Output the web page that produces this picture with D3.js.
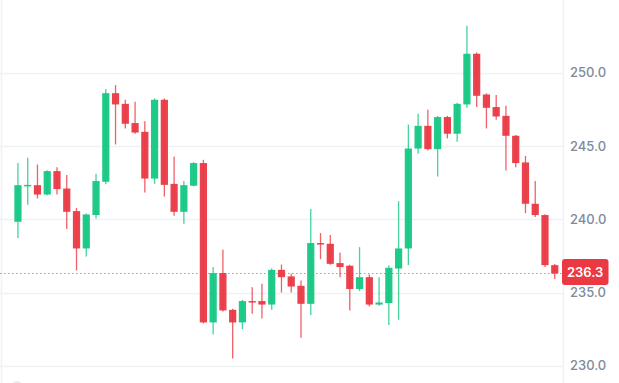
<!DOCTYPE html>
<html>
<head>
<meta charset="utf-8">
<script src="https://cdn.jsdelivr.net/npm/d3@7"></script>
<style>
  html, body { margin: 0; padding: 0; background: #fff; }
  svg { display: block; }
</style>
</head>
<body>
<div id="chart"></div>
<script>
// Chart size
const width = 619;
const height = 383;

// Candle data (oldest first)
const opens = [239.83, 242.25, 242.33, 241.69, 243.29, 242.10, 240.56, 238.01, 240.29, 242.56,
  248.61, 247.88, 246.57, 245.97, 242.78, 248.16, 242.42, 240.51, 242.29, 243.84,
  232.96, 236.33, 233.82, 232.96, 234.42, 234.42, 234.18, 236.55, 236.10, 235.46,
  234.23, 238.38, 238.33, 237.01, 236.83, 235.24, 236.05, 234.18, 234.28, 236.64,
  238.01, 244.83, 246.38, 244.79, 246.98, 245.84, 247.84, 251.30, 248.52, 247.66,
  247.06, 245.70, 243.88, 241.06, 240.29, 236.87];
const highs = [243.84, 244.20, 243.74, 243.35, 243.56, 243.02, 240.78, 240.40, 243.11, 248.89,
  249.16, 248.16, 248.02, 246.70, 248.25, 248.25, 244.29, 242.61, 243.90, 244.06,
  236.74, 237.92, 233.90, 234.50, 235.37, 235.60, 236.64, 236.91, 236.28, 235.82,
  240.70, 239.06, 238.92, 237.73, 236.90, 238.10, 236.23, 236.05, 236.87, 241.24,
  246.47, 247.20, 247.47, 247.05, 247.06, 247.95, 253.21, 251.39, 248.60, 248.48,
  247.75, 245.75, 244.33, 242.61, 240.35, 236.95];
const lows = [238.72, 241.00, 241.42, 241.65, 241.69, 239.33, 236.51, 237.46, 240.05, 242.40,
  245.11, 246.20, 245.84, 241.83, 242.42, 241.56, 240.24, 239.69, 242.25, 232.90,
  232.14, 233.70, 230.50, 232.50, 233.55, 233.23, 233.82, 235.00, 235.00, 231.91,
  233.46, 237.28, 236.90, 236.05, 233.78, 235.10, 234.05, 234.10, 232.78, 233.14,
  236.87, 244.47, 244.70, 242.92, 245.52, 245.29, 247.61, 247.66, 246.20, 246.79,
  243.33, 243.56, 240.42, 240.15, 236.74, 235.92];
const closes = [242.33, 242.35, 241.69, 243.29, 242.06, 240.51, 238.01, 240.33, 242.61, 248.61,
  247.84, 246.52, 245.92, 242.78, 248.16, 242.35, 240.51, 242.33, 243.84, 232.96,
  236.33, 233.78, 232.96, 234.42, 234.35, 234.18, 236.55, 236.05, 235.41, 234.23,
  238.38, 238.30, 236.96, 236.74, 235.24, 236.05, 234.18, 234.32, 236.69, 238.01,
  244.83, 246.38, 244.79, 246.98, 245.84, 247.88, 251.30, 248.43, 247.61, 247.02,
  245.70, 243.84, 241.06, 240.29, 236.87, 236.30];

// Price axis ticks
const priceTicks = [230, 235, 240, 245, 250];

const green = '#16c784';
const red = '#ea3943';
const gridColor = '#eff2f5';

const candles = opens.map((o, i) => ({ i, o, h: highs[i], l: lows[i], c: closes[i] }));

// Scales
const plotRight = 563.5;
const x = d3.scaleBand()
    .domain(d3.range(candles.length))
    .range([11.8, 560.9])
    .padding(0.26);
const y = d3.scaleLinear().domain([230, 250]).range([365.8, 72.8]);

const svg = d3.select('#chart').append('svg')
    .attr('width', width)
    .attr('height', height)
    .style('font-family', 'Inter, "Noto Sans", sans-serif');

// Grid lines
svg.append('g')
    .selectAll('line')
    .data(priceTicks)
    .join('line')
    .attr('x1', 0)
    .attr('x2', plotRight)
    .attr('y1', d => Math.round(y(d)) + 0.5)
    .attr('y2', d => Math.round(y(d)) + 0.5)
    .attr('stroke', gridColor)
    .attr('stroke-width', 1.5);

// Left border and price axis separator
svg.append('line').attr('x1', 1.5).attr('x2', 1.5).attr('y1', 0).attr('y2', height)
    .attr('stroke', gridColor).attr('stroke-width', 1.5);
svg.append('line').attr('x1', plotRight).attr('x2', plotRight).attr('y1', 0).attr('y2', height)
    .attr('stroke', gridColor).attr('stroke-width', 1.5);

// Last price dotted line
const last = closes[closes.length - 1];
svg.append('line')
    .attr('x1', 0).attr('x2', plotRight)
    .attr('y1', y(last)).attr('y2', y(last))
    .attr('stroke', '#9aa1ad')
    .attr('stroke-width', 1)
    .attr('stroke-dasharray', '1.5,2.5');

// Candles
const g = svg.append('g');
const color = d => d.c >= d.o ? green : red;

g.selectAll('line.wick')
    .data(candles)
    .join('line')
    .attr('class', 'wick')
    .attr('x1', d => x(d.i) + x.bandwidth() / 2)
    .attr('x2', d => x(d.i) + x.bandwidth() / 2)
    .attr('y1', d => y(d.h))
    .attr('y2', d => y(d.l))
    .attr('stroke', color)
    .attr('stroke-opacity', 0.8)
    .attr('stroke-width', 1.3);

g.selectAll('rect.body')
    .data(candles)
    .join('rect')
    .attr('class', 'body')
    .attr('x', d => x(d.i))
    .attr('width', x.bandwidth())
    .attr('y', d => y(Math.max(d.o, d.c)))
    .attr('height', d => Math.max(1.5, Math.abs(y(d.o) - y(d.c))))
    .attr('fill', color)
    .attr('fill-opacity', 0.95);

// Price axis labels
svg.append('g')
    .selectAll('text')
    .data(priceTicks)
    .join('text')
    .attr('x', 570)
    .attr('y', d => y(d))
    .attr('dy', '0.36em')
    .attr('fill', '#808a9d')
    .attr('font-size', 13)
    .attr('font-weight', 500)
    .text(d => d3.format('.1f')(d));

// Last price tag
const tag = svg.append('g').attr('transform', `translate(562,${y(last) - 1.5})`);
tag.append('rect')
    .attr('x', 0).attr('y', -13)
    .attr('width', 46.5).attr('height', 26)
    .attr('rx', 3)
    .attr('fill', red);
tag.append('text')
    .attr('x', 23.2).attr('y', 0)
    .attr('dy', '0.36em')
    .attr('text-anchor', 'middle')
    .attr('fill', '#fff')
    .attr('font-size', 13)
    .attr('font-weight', 600)
    .text(d3.format('.1f')(last));

// Faint watermark logo in the bottom-left corner
svg.append('circle').attr('cx', 17).attr('cy', 387).attr('r', 6).attr('fill', '#e6ebf1');
</script>
</body>
</html>
